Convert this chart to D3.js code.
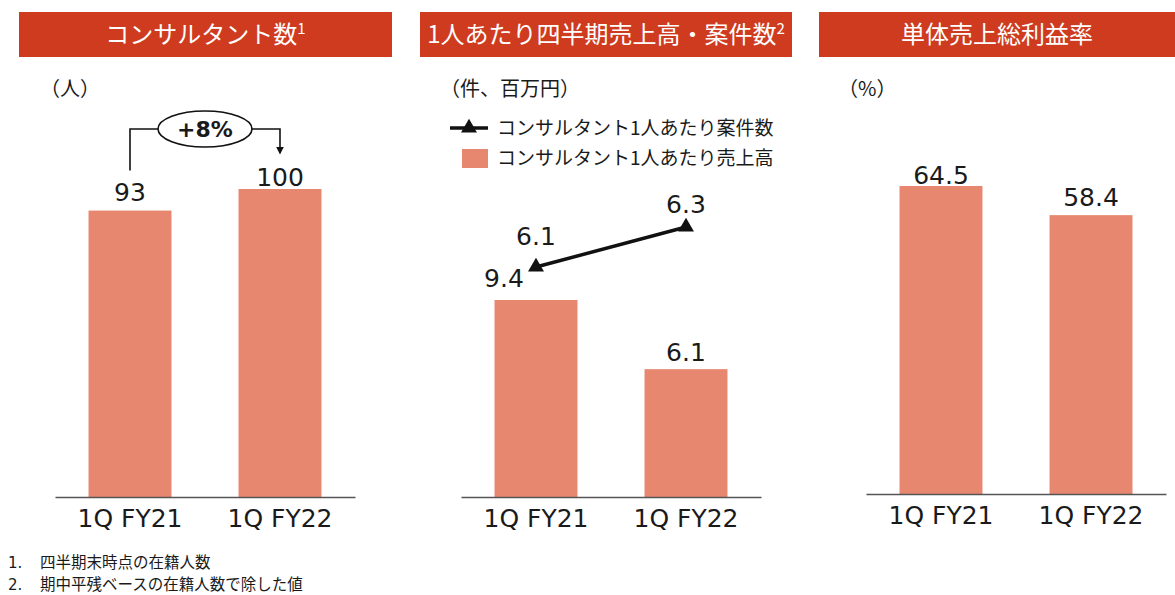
<!DOCTYPE html>
<html>

<head>
  <meta charset="utf-8">
  <title>KPI panels</title>
  <script src="https://cdn.jsdelivr.net/npm/d3@7"></script>
  <style type="text/css">
    body {
      margin: 0;
      background: #fff;
    }

    text {
      font-family: "DejaVu Sans", "Noto Sans CJK JP", sans-serif;
      fill: #1a1a1a;
    }

    .jp {
      font-family: "Noto Sans CJK JP", sans-serif;
    }
  </style>
</head>

<body>
  <div id="chartArea"></div>
  <script type="text/javascript">
    // data
    let categories = ['1Q FY21', '1Q FY22'];
    let consultants = [93, 100];
    let salesPerHead = [9.4, 6.1];
    let casesPerHead = [6.1, 6.3];
    let grossMargin = [64.5, 58.4];
    let growthLabel = '+8%';

    let titles = ['コンサルタント数', '1人あたり四半期売上高・案件数', '単体売上総利益率'];
    let titleNotes = ['1', '2', ''];
    let units = ['（人）', '（件、百万円）', '（%）'];
    let legendLabels = ['コンサルタント1人あたり案件数', 'コンサルタント1人あたり売上高'];
    let footnotes = ['四半期末時点の在籍人数', '期中平残ベースの在籍人数で除した値'];

    let barColor = '#e8876f';
    let titleColor = '#cf3b1f';

    let svg = d3.select('#chartArea').append('svg')
      .attr('width', 1175)
      .attr('height', 595);

    // title bars
    let titleBoxes = [[19, 392], [420, 792], [819, 1175]];
    titleBoxes.forEach((b, i) => {
      svg.append('rect')
        .attr('x', b[0]).attr('y', 12)
        .attr('width', b[1] - b[0]).attr('height', 45)
        .attr('fill', titleColor);
      let t = svg.append('text')
        .attr('class', 'jp')
        .attr('x', (b[0] + b[1]) / 2)
        .attr('y', 43)
        .attr('text-anchor', 'middle')
        .style('font-size', '24px')
        .style('fill', '#fff');
      t.append('tspan').text(titles[i]);
      if (titleNotes[i]) {
        t.append('tspan')
          .attr('dy', -9)
          .style('font-size', '15px')
          .text(titleNotes[i]);
      }
    });

    // unit labels
    [40, 440, 838].forEach((x, i) => {
      svg.append('text')
        .attr('class', 'jp')
        .attr('x', x).attr('y', 96)
        .style('font-size', '20px')
        .text(units[i]);
    });

    let panelW = 300;

    function makePanel(x0, baseY, values, topPx) {
      let g = svg.append('g');
      let xScale = d3.scaleBand()
        .domain(categories)
        .range([x0, x0 + panelW])
        .padding(0);
      let yScale = d3.scaleLinear()
        .domain([0, d3.max(values)])
        .range([baseY, topPx]);
      let bw = xScale.bandwidth() * 0.553;

      g.selectAll('rect')
        .data(values)
        .enter()
        .append('rect')
        .attr('x', (d, i) => xScale(categories[i]) + (xScale.bandwidth() - bw) / 2)
        .attr('y', d => yScale(d))
        .attr('width', bw)
        .attr('height', d => baseY - yScale(d))
        .attr('fill', barColor);

      let axis = d3.axisBottom(xScale).tickSize(0).tickPadding(12);
      let ag = g.append('g')
        .attr('transform', `translate(0, ${baseY})`)
        .call(axis);
      ag.select('.domain').attr('stroke', '#555').attr('stroke-width', 1.6);
      ag.selectAll('text')
        .style('font-size', '25px')
        .style('font-family', '"DejaVu Sans", sans-serif')
        .attr('fill', '#1a1a1a');

      return { g, xScale, yScale };
    }

    let center = (sc, i) => sc(categories[i]) + sc.bandwidth() / 2;

    // panel 1: consultants
    let p1 = makePanel(55, 497, consultants, 189);
    p1.g.selectAll('.val')
      .data(consultants)
      .enter()
      .append('text')
      .attr('x', (d, i) => center(p1.xScale, i))
      .attr('y', (d, i) => p1.yScale(d) - (i === 0 ? 10 : 3))
      .attr('text-anchor', 'middle')
      .style('font-size', '25px')
      .text(d => d);

    // growth annotation
    let ax1 = center(p1.xScale, 0);
    let ax2 = center(p1.xScale, 1);
    let topY = p1.yScale(d3.max(consultants)) - 60;
    svg.append('defs').append('marker')
      .attr('id', 'arrow')
      .attr('viewBox', '0 0 10 10')
      .attr('refX', 8).attr('refY', 5)
      .attr('markerWidth', 5).attr('markerHeight', 5)
      .attr('orient', 'auto')
      .append('path')
      .attr('d', 'M0,0 L10,5 L0,10 z')
      .attr('fill', '#111');
    p1.g.append('path')
      .attr('d', `M${ax1},${p1.yScale(consultants[0]) - 40} V${topY} H${ax2} V${p1.yScale(consultants[1]) - 36}`)
      .attr('fill', 'none')
      .attr('stroke', '#111')
      .attr('stroke-width', 1.6)
      .attr('marker-end', 'url(#arrow)');
    p1.g.append('ellipse')
      .attr('cx', (ax1 + ax2) / 2).attr('cy', topY)
      .attr('rx', 47).attr('ry', 18)
      .attr('fill', '#fff')
      .attr('stroke', '#111')
      .attr('stroke-width', 1.6);
    p1.g.append('text')
      .attr('x', (ax1 + ax2) / 2).attr('y', topY + 8)
      .attr('text-anchor', 'middle')
      .style('font-size', '22px')
      .style('font-weight', 'bold')
      .text(growthLabel);

    // panel 2: sales per head (bars) + cases per head (line)
    let p2 = makePanel(461, 497, salesPerHead, 300);
    p2.g.selectAll('.val')
      .data(salesPerHead)
      .enter()
      .append('text')
      .attr('x', (d, i) => center(p2.xScale, i) - (i === 0 ? 32 : 0))
      .attr('y', (d, i) => p2.yScale(d) - (i === 0 ? 13 : 8))
      .attr('text-anchor', 'middle')
      .style('font-size', '25px')
      .text(d => d.toFixed(1));

    let yLine = d3.scaleLinear()
      .domain([4.95, 6.5])
      .range([497, 187]);
    let line = d3.line()
      .x((d, i) => center(p2.xScale, i))
      .y(d => yLine(d));
    p2.g.append('path')
      .datum(casesPerHead)
      .attr('d', line)
      .attr('fill', 'none')
      .attr('stroke', '#111')
      .attr('stroke-width', 3.5);
    let tri = d3.symbol().type(d3.symbolTriangle).size(110);
    p2.g.selectAll('.mk')
      .data(casesPerHead)
      .enter()
      .append('path')
      .attr('d', tri)
      .attr('transform', (d, i) => `translate(${center(p2.xScale, i)}, ${yLine(d)})`)
      .attr('fill', '#111');
    p2.g.selectAll('.lv')
      .data(casesPerHead)
      .enter()
      .append('text')
      .attr('x', (d, i) => center(p2.xScale, i))
      .attr('y', (d, i) => yLine(d) - (i === 0 ? 22 : 14))
      .attr('text-anchor', 'middle')
      .style('font-size', '25px')
      .text(d => d.toFixed(1));

    // legend
    let lg = svg.append('g');
    lg.append('line')
      .attr('x1', 450).attr('x2', 488)
      .attr('y1', 128).attr('y2', 128)
      .attr('stroke', '#111').attr('stroke-width', 3.5);
    lg.append('path')
      .attr('d', tri)
      .attr('transform', 'translate(469, 128)')
      .attr('fill', '#111');
    lg.append('rect')
      .attr('x', 462).attr('y', 149)
      .attr('width', 26).attr('height', 19)
      .attr('fill', barColor);
    legendLabels.forEach((t, i) => {
      lg.append('text')
        .attr('class', 'jp')
        .attr('x', 497)
        .attr('y', 135 + i * 30)
        .style('font-size', '19px')
        .text(t);
    });

    // panel 3: gross margin
    let p3 = makePanel(866, 494, grossMargin, 186);
    p3.g.selectAll('.val')
      .data(grossMargin)
      .enter()
      .append('text')
      .attr('x', (d, i) => center(p3.xScale, i))
      .attr('y', (d, i) => p3.yScale(d) - (i === 0 ? 2 : 9))
      .attr('text-anchor', 'middle')
      .style('font-size', '25px')
      .text(d => d.toFixed(1));

    // footnotes
    footnotes.forEach((t, i) => {
      svg.append('text')
        .attr('x', 8).attr('y', 568 + i * 22)
        .style('font-size', '15px')
        .text(`${i + 1}.`);
      svg.append('text')
        .attr('class', 'jp')
        .attr('x', 40).attr('y', 568 + i * 22)
        .style('font-size', '15.5px')
        .text(t);
    });
  </script>
</body>

</html>
